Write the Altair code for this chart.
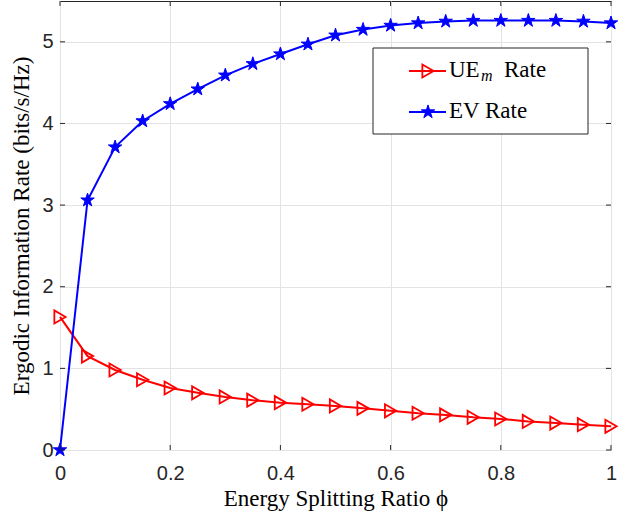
import altair as alt
import pandas as pd

# ---- data ----
phi = [0.0, 0.05, 0.1, 0.15, 0.2, 0.25, 0.3, 0.35, 0.4, 0.45, 0.5,
       0.55, 0.6, 0.65, 0.7, 0.75, 0.8, 0.85, 0.9, 0.95, 1.0]
ue_rate = [1.63, 1.15, 0.98, 0.86, 0.76, 0.70, 0.65, 0.61, 0.58, 0.56, 0.54,
           0.51, 0.48, 0.45, 0.43, 0.40, 0.38, 0.35, 0.33, 0.31, 0.29]
ev_rate = [0.0, 3.06, 3.71, 4.03, 4.24, 4.42, 4.59, 4.73, 4.85, 4.97, 5.08,
           5.15, 5.20, 5.23, 5.25, 5.26, 5.26, 5.26, 5.26, 5.25, 5.23]
x_ticks = [0, 0.2, 0.4, 0.6, 0.8, 1]
y_ticks = [0, 1, 2, 3, 4, 5]

W, H = 551, 449
AX = "#262626"
SERIF = "Liberation Serif"
SANS = "Liberation Sans"
TFS = 23
STAR = ("M0,-1L0.2245,-0.309L0.951,-0.309L0.363,0.118L0.588,0.809L0,0.382"
        "L-0.588,0.809L-0.363,0.118L-0.951,-0.309L-0.2245,-0.309Z")

ue_df = pd.DataFrame({"phi": phi, "rate": ue_rate})
ev_df = pd.DataFrame({"phi": phi, "rate": ev_rate})
xt_df = pd.DataFrame({"phi": x_ticks})
yt_df = pd.DataFrame({"rate": y_ticks})

xs = alt.Scale(domain=[0, 1], nice=False, zero=False)
ys = alt.Scale(domain=[0, 5.5], nice=False, zero=False)

x_axis = alt.Axis(values=x_ticks, format="~g", grid=True, gridColor="#e3e3e3", gridWidth=1,
                  domain=False, ticks=False, tickSize=0, labelFlush=False, labelOverlap=False,
                  labelFont=SANS, labelFontSize=20, labelColor=AX, labelPadding=13,
                  title="Energy Splitting Ratio ϕ", titleFont=SERIF, titleFontSize=TFS,
                  titleFontWeight="normal", titleColor="black", titlePadding=4)
y_axis = alt.Axis(values=y_ticks, format="d", grid=True, gridColor="#e3e3e3", gridWidth=1,
                  domain=False, ticks=False, tickSize=0, labelOverlap=False,
                  labelFont=SANS, labelFontSize=20, labelColor=AX, labelPadding=7,
                  title="Ergodic Information Rate (bits/s/Hz)", titleFont=SERIF, titleFontSize=TFS,
                  titleFontWeight="normal", titleColor="black", titlePadding=8)

X = alt.X("phi:Q", scale=xs, axis=x_axis)
Y = alt.Y("rate:Q", scale=ys, axis=y_axis)

ue_line = alt.Chart(ue_df).mark_line(color="#ff0000", strokeWidth=2).encode(x=X, y=Y)
ue_pts = alt.Chart(ue_df).mark_point(shape="triangle-right", filled=False, color="#ff0000",
                                     size=170, strokeWidth=1.8, opacity=1).encode(x=X, y=Y)
ev_line = alt.Chart(ev_df).mark_line(color="#0000ff", strokeWidth=2).encode(x=X, y=Y)
ev_pts = alt.Chart(ev_df).mark_point(shape=STAR, filled=True, color="#0000ff", stroke="#0000ff",
                                     strokeWidth=1, size=200, opacity=1).encode(x=X, y=Y)

# inward ticks (MATLAB box style)
tick_kw = dict(color=AX, strokeWidth=1)
t_bottom = alt.Chart(xt_df).mark_rule(**tick_kw).encode(
    x=X, y=alt.value(H), y2=alt.value(H - 5))
t_top = alt.Chart(xt_df).mark_rule(**tick_kw).encode(
    x=X, y=alt.value(0), y2=alt.value(5))
t_left = alt.Chart(yt_df).mark_rule(**tick_kw).encode(
    y=Y, x=alt.value(0), x2=alt.value(5))
t_right = alt.Chart(yt_df).mark_rule(**tick_kw).encode(
    y=Y, x=alt.value(W), x2=alt.value(W - 5))

# legend (manual, to allow the subscript)
one = pd.DataFrame({"k": [0]})
leg_box = alt.Chart(one).mark_rect(fill="white", stroke=AX, strokeWidth=1).encode(
    x=alt.value(313), x2=alt.value(528), y=alt.value(47), y2=alt.value(133))
leg_l1 = alt.Chart(one).mark_rule(color="#ff0000", strokeWidth=2).encode(
    x=alt.value(349), x2=alt.value(386), y=alt.value(70))
leg_p1 = alt.Chart(one).mark_point(shape="triangle-right", filled=False, color="#ff0000",
                                   size=170, strokeWidth=1.8, opacity=1).encode(
    x=alt.value(368), y=alt.value(70))
leg_l2 = alt.Chart(one).mark_rule(color="#0000ff", strokeWidth=2).encode(
    x=alt.value(349), x2=alt.value(386), y=alt.value(111))
leg_p2 = alt.Chart(one).mark_point(shape=STAR, filled=True, color="#0000ff", stroke="#0000ff",
                                   strokeWidth=1, size=200, opacity=1).encode(
    x=alt.value(368), y=alt.value(111))
txt_kw = dict(font=SERIF, fontSize=TFS, color="black", align="left", baseline="alphabetic")
leg_t1a = alt.Chart(one).mark_text(text="UE", **txt_kw).encode(x=alt.value(389), y=alt.value(76))
leg_t1b = alt.Chart(one).mark_text(text="m", font=SERIF, fontSize=16, fontStyle="italic",
                                   color="black", align="left", baseline="alphabetic").encode(
    x=alt.value(421), y=alt.value(80))
leg_t1c = alt.Chart(one).mark_text(text="Rate", **txt_kw).encode(x=alt.value(444), y=alt.value(76))
leg_t2 = alt.Chart(one).mark_text(text="EV Rate", **txt_kw).encode(x=alt.value(389), y=alt.value(117))

chart = alt.layer(
    ue_line, ev_line, ue_pts, ev_pts,
    t_bottom, t_top, t_left, t_right,
    leg_box, leg_l1, leg_p1, leg_l2, leg_p2,
    leg_t1a, leg_t1b, leg_t1c, leg_t2,
).properties(
    width=W, height=H,
    autosize=alt.AutoSizeParams(type="none"),
    padding={"left": 60, "top": 1, "right": 18, "bottom": 63},
    background="white",
).configure_view(stroke=AX, strokeWidth=1)

chart.save("out.html", embed_options={"renderer": "svg", "actions": False})
